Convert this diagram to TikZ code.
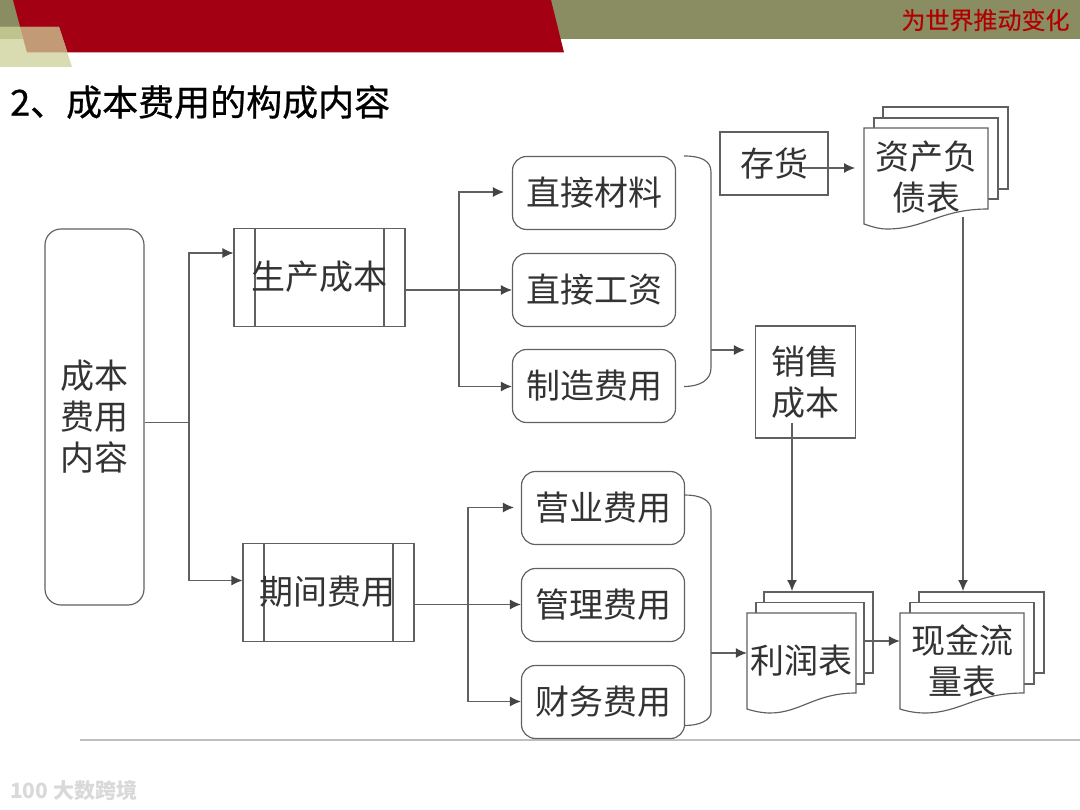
\documentclass[tikz,border=0pt]{standalone}
\usepackage{fontspec}
\setmainfont{Noto Sans CJK SC}
\newfontfamily\titlefont[FakeBold=0.7]{Noto Sans CJK SC}
\newfontfamily\slogfont[FakeBold=0.3]{Noto Sans CJK SC}
\usetikzlibrary{arrows.meta}
\definecolor{olive}{HTML}{8A8D62}
\definecolor{crim}{HTML}{A30013}
\definecolor{lineg}{HTML}{606060}
\definecolor{txtg}{HTML}{333333}
\definecolor{palegreen}{HTML}{D8DCB0}
\definecolor{midgreen}{HTML}{BFC48F}
\definecolor{tanblend}{HTML}{C29A75}
\definecolor{arrowg}{HTML}{444444}
\tikzset{
 x=1pt,y=-1pt,
 conn/.style={draw=lineg,line width=1.15pt},
 arr/.style={conn,-{Latex[length=11pt,width=10pt,color=arrowg]}},
 lab/.style={font=\fontsize{34}{41}\selectfont,text=txtg,align=center,inner sep=0pt},
 plainbox/.style={draw=lineg,line width=1.15pt,inner sep=0pt,font=\fontsize{34}{41}\selectfont,text=txtg,align=center},
 rbox/.style={plainbox,rounded corners=14pt,minimum width=163pt,minimum height=73pt},
 pbox/.style={plainbox,minimum width=171pt,minimum height=98pt},
 sheet/.style={draw=lineg,line width=1.15pt,fill=white},
 anchorbox/.style={inner sep=0pt},
}
\begin{document}
\begin{tikzpicture}
\useasboundingbox (0,0) rectangle (1080,810);
\fill[white] (0,0) rectangle (1080,810);
% banner
\fill[olive] (0,0) rectangle (1080,39);
\fill[crim] (13,0) -- (551,0) -- (564,52.5) -- (27,52.5) -- cycle;
\fill[palegreen] (0,27) -- (59,27) -- (72,67) -- (0,67) -- cycle;
\fill[midgreen] (0,27) -- (20,27) -- (23,39) -- (0,39) -- cycle;
\fill[tanblend] (20,27) -- (59,27) -- (67.5,52.5) -- (27,52.5) -- cycle;
\node[anchorbox,text=red!70!black,font=\slogfont\fontsize{24}{24}\selectfont] (slogan) at (985.5,20) {为世界推动变化};
\node[anchorbox,text=black,font=\titlefont\fontsize{36}{36}\selectfont,anchor=west] (title) at (10,102) {2、成本费用的构成内容};
% footer
\draw[draw=black!25,line width=1.3pt] (80,740) -- (1080,740);
\node[anchorbox,text=black!15,font=\fontsize{21}{21}\selectfont\bfseries,anchor=west] (mark) at (10,790) {100 大数跨境};
% main
\node[plainbox,rounded corners=16pt,minimum width=99pt,minimum height=376pt] (root) at (94.5,417) {成本\\费用\\内容};
\node[pbox] (prod) at (319.5,277.5) {};
\draw[conn] (255,229) -- (255,326) (384,229) -- (384,326);
\node[lab] (prodt) at (319,277) {生产成本};
\node[pbox] (per) at (328.5,592.5) {};
\draw[conn] (264,544) -- (264,641) (393,544) -- (393,641);
\node[lab] (pert) at (327,592) {期间费用};
\node[rbox] (m1) at (594,193) {直接材料};
\node[rbox] (m2) at (594,290) {直接工资};
\node[rbox] (m3) at (594,386) {制造费用};
\node[rbox] (e1) at (603,508) {营业费用};
\node[rbox] (e2) at (603,605) {管理费用};
\node[rbox] (e3) at (603,702) {财务费用};
\node[plainbox,minimum width=108pt,minimum height=63pt] (stock) at (774,163.5) {存货};
\node[plainbox,minimum width=100pt,minimum height=112pt] (cost) at (805.5,382) {销售\\成本};
% balance sheet
\draw[sheet] (883,107) rectangle (1008,189);
\draw[sheet] (874,118) rectangle (998,199);
\draw[sheet] (864,128) -- (988,128) -- (988,209) .. controls (940,209) and (925,229) .. (887,229) .. controls (878,229) and (870,226) .. (864,224) -- cycle;
\node[anchorbox,minimum width=124pt,minimum height=96pt] (bs) at (926,178) {};
\node[lab] (bst) at (926,177) {资产负\\债表};
% profit
\draw[sheet] (764,592) rectangle (873,673);
\draw[sheet] (756,602.5) rectangle (864,684);
\draw[sheet] (747,613) -- (856,613) -- (856,693) .. controls (815,693) and (800,713) .. (770,713) .. controls (762,713) and (753,711) .. (747,709) -- cycle;
\node[anchorbox,minimum width=109pt,minimum height=96pt] (pl) at (801.5,661) {};
\node[lab] (plt) at (801,661) {利润表};
% cash
\draw[sheet] (919,592) rectangle (1044,673);
\draw[sheet] (910,602.5) rectangle (1034,684);
\draw[sheet] (900,613) -- (1024,613) -- (1024,693) .. controls (975,693) and (960,713) .. (925,713) .. controls (915,713) and (906,711) .. (900,709) -- cycle;
\node[anchorbox,minimum width=124pt,minimum height=96pt] (cf) at (962,661) {};
\node[lab] (cft) at (962,661) {现金流\\量表};
% connectors
\coordinate (j0) at (189,422.5);
\draw[conn] (root.east |- j0) -- (j0);
\draw[arr] (j0) |- (prod.west |- 0,253);
\draw[arr] (j0) |- (per.west |- 0,580.5);
\coordinate (j1) at (459,290);
\draw[conn] (prod.east |- j1) -- (j1);
\draw[arr] (j1) -- (m2.west);
\draw[arr,shorten >=8pt] (j1) |- (m1.west |- 0,192);
\draw[arr] (j1) |- (m3.west |- 0,386.5);
\coordinate (j2) at (468,604.5);
\draw[conn] (per.east |- j2) -- (j2);
\draw[arr] (j2) -- (e2.west |- j2);
\draw[arr,shorten >=7pt] (j2) |- (e1.west |- 0,507.5);
\draw[arr] (j2) |- (e3.west |- 0,701.5);
% braces
\coordinate (b1s) at (684,156);
\coordinate (b1e) at (684,386.5);
\draw[conn] (b1s) .. controls (700,156) and (711,160) .. (711,172) -- (711,368) .. controls (711,380) and (700,386.5) .. (b1e);
\coordinate (b1) at (711,350);
\draw[arr,shorten >=10pt] (b1) -- (cost.west |- b1);
\coordinate (b2s) at (685,495);
\coordinate (b2e) at (685,725.5);
\draw[conn] (b2s) .. controls (700,495) and (711,500) .. (711,510) -- (711,712) .. controls (711,720) and (700,725.5) .. (b2e);
\coordinate (b2) at (711,653);
\draw[arr] (b2) -- (pl.west |- b2);
\coordinate (s1) at (802,168);
\coordinate (s2) at (855,168);
\draw[arr] (s1) -- (s2);
\coordinate (c1) at (792,423);
\coordinate (c2) at (792,591);
\draw[arr] (c1) -- (c2);
\coordinate (d1) at (963,217);
\coordinate (d2) at (963,591);
\draw[arr] (d1) -- (d2);
\coordinate (p1) at (864,641);
\draw[arr] (p1) -- (cf.west |- p1);
\end{tikzpicture}
\end{document}
